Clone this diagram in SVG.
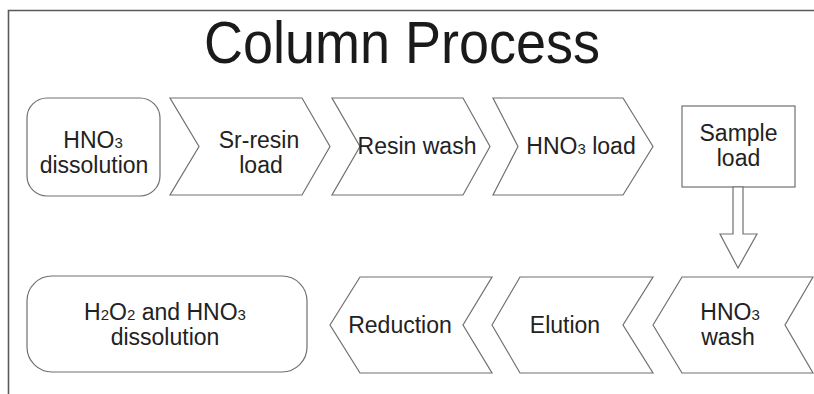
<svg xmlns="http://www.w3.org/2000/svg" width="814" height="394" viewBox="0 0 814 394">
<style>
.shape{fill:#ffffff;stroke:#707070;stroke-width:1.2;stroke-linejoin:miter}
.t{font-family:"Liberation Sans",Arial,sans-serif;font-size:23px;fill:#222222;text-anchor:middle}
.sub{font-size:15px}
.title{font-family:"Liberation Sans",Arial,sans-serif;font-size:54px;fill:#1a1a1a;text-anchor:middle}
</style>
<rect x="0" y="0" width="814" height="394" fill="#ffffff"/>
<path d="M8.5,394 V10.5 H814" fill="none" stroke="#5a5a5a" stroke-width="1.6"/>
<text class="title" transform="translate(402,63) scale(1,1.08)">Column Process</text>

<g id="n1">
<rect class="shape" x="27" y="98" width="133" height="98" rx="20" ry="20"/>
<text class="t" x="93" y="148">HNO<tspan class="sub">3</tspan></text>
<text class="t" x="94" y="173">dissolution</text>
</g>
<g id="n2">
<polygon class="shape" points="170,98 302,98 330,146.5 302,195 170,195 199,146.5"/>
<text class="t" x="259" y="148">Sr-resin</text>
<text class="t" x="261" y="173">load</text>
</g>
<g id="n3">
<polygon class="shape" points="332,98 463,98 490,146.5 463,195 332,195 360,146.5"/>
<text class="t" x="417" y="154">Resin wash</text>
</g>
<g id="n4">
<polygon class="shape" points="493,98 623,98 653,146.5 623,195 493,195 518,146.5"/>
<text class="t" x="581" y="154">HNO<tspan class="sub">3</tspan> load</text>
</g>
<g id="n5">
<rect class="shape" x="682" y="106" width="113" height="81"/>
<text class="t" x="738.5" y="141">Sample</text>
<text class="t" x="738.5" y="166">load</text>
</g>
<g id="n6">
<polygon class="shape" points="653,325 682,277 813,277 785,325 813,373 682,373"/>
<text class="t" x="730" y="320">HNO<tspan class="sub">3</tspan></text>
<text class="t" x="728" y="345">wash</text>
</g>
<g id="n7">
<polygon class="shape" points="492,325 520,277 653,277 623,325 653,373 520,373"/>
<text class="t" x="565" y="333">Elution</text>
</g>
<g id="n8">
<polygon class="shape" points="330,325 360,277 492,277 463,325 492,373 360,373"/>
<text class="t" x="400" y="333">Reduction</text>
</g>
<g id="n9">
<rect class="shape" x="27" y="276" width="280" height="96" rx="25" ry="25"/>
<text class="t" x="165" y="320">H<tspan class="sub">2</tspan>O<tspan class="sub">2</tspan> and HNO<tspan class="sub">3</tspan></text>
<text class="t" x="165" y="345">dissolution</text>
</g>

<g id="connectors">
<polygon class="shape" points="733,187 743,187 743,234 757,234 738,268 720,234 733,234"/>
</g>
</svg>
